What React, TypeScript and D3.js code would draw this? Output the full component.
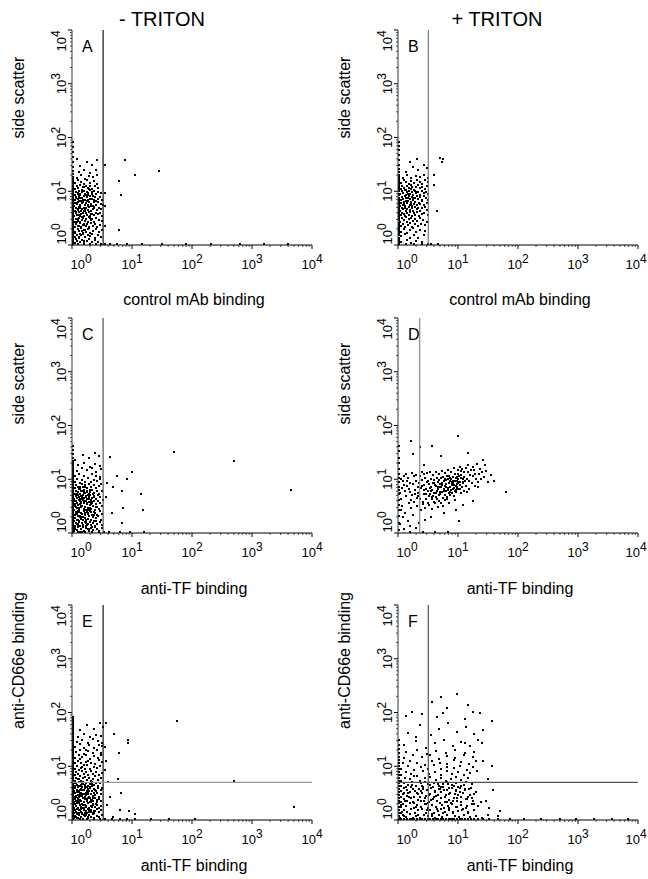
import React from "react";
import * as d3 from "d3";

// events: [x channel, y channel] in linear units (log axes 10^0..10^4)
const cloudA: [number, number][] = [
  [1.08,1.05],[1.18,1.15],[1.3,1.08],[1.42,1.2],[1.55,1.03],[1.68,1.12],[1.85,1.22],[2.05,1.07],[2.3,1.17],[2.65,1.1],[1.12,1.24],[1.5,1.14],
  [1.06,1.35],[1.15,1.5],[1.25,1.3],[1.38,1.45],[1.47,1.55],[1.6,1.33],[1.75,1.48],[1.9,1.38],[2.1,1.52],[2.35,1.29],[2.6,1.44],[2.95,1.36],[1.32,1.56],
  [1.1,1.65],[1.2,1.9],[1.28,1.72],[1.36,1.98],[1.45,1.6],[1.55,1.82],[1.66,1.7],[1.8,1.93],[1.95,1.63],[2.15,1.78],[2.4,1.88],[2.7,1.67],[3.05,1.85],[1.4,1.76],
  [1.07,2.1],[1.14,2.35],[1.22,2.2],[1.3,2.45],[1.37,2.05],[1.44,2.28],[1.52,2.4],[1.62,2.15],[1.72,2.32],[1.84,2.02],[1.98,2.44],[2.12,2.18],[2.3,2.38],[2.55,2.08],[2.85,2.26],[1.26,2.12],
  [1.06,2.6],[1.12,2.95],[1.19,2.72],[1.27,3.1],[1.33,2.55],[1.4,2.85],[1.48,3.05],[1.56,2.65],[1.65,2.9],[1.75,2.58],[1.86,3.15],[1.97,2.78],[2.1,2.98],[2.25,2.62],[2.45,3.08],[2.7,2.82],[3.0,2.7],[1.22,2.88],
  [1.05,3.3],[1.11,3.7],[1.17,3.45],[1.24,3.9],[1.31,3.25],[1.38,3.6],[1.46,3.82],[1.54,3.38],[1.63,3.72],[1.72,3.5],[1.82,3.95],[1.93,3.3],[2.05,3.65],[2.2,3.42],[2.38,3.85],[2.6,3.55],[2.85,3.75],[3.1,3.35],
  [1.07,4.1],[1.13,4.6],[1.2,4.3],[1.27,4.85],[1.34,4.05],[1.41,4.5],[1.5,4.75],[1.58,4.2],[1.67,4.65],[1.77,4.35],[1.88,4.9],[2.0,4.15],[2.13,4.55],[2.28,4.8],[2.47,4.25],[2.68,4.7],[2.95,4.4],[1.23,4.45],
  [1.05,5.2],[1.11,5.9],[1.18,5.5],[1.25,6.2],[1.32,5.1],[1.4,5.7],[1.48,6.05],[1.57,5.35],[1.66,5.85],[1.76,5.25],[1.87,6.15],[1.99,5.6],[2.12,5.05],[2.27,5.95],[2.45,5.4],[2.65,6.1],[2.9,5.6],[3.15,5.3],
  [1.08,6.5],[1.14,7.4],[1.21,6.9],[1.28,7.8],[1.35,6.4],[1.43,7.2],[1.51,7.7],[1.6,6.7],[1.7,7.5],[1.81,6.55],[1.92,7.9],[2.05,7.0],[2.2,6.45],[2.37,7.6],[2.57,6.85],[2.8,7.35],[3.05,6.6],[1.25,7.1],
  [1.06,8.3],[1.12,9.4],[1.19,8.8],[1.26,9.8],[1.33,8.1],[1.41,9.1],[1.5,9.7],[1.59,8.5],[1.69,9.3],[1.8,8.2],[1.92,9.9],[2.06,8.7],[2.22,9.5],[2.42,8.4],[2.65,9.2],[2.95,8.9],
  [1.07,10.5],[1.15,12],[1.23,11],[1.32,12.4],[1.42,10.2],[1.53,11.5],[1.65,12.2],[1.78,10.8],[1.93,11.8],[2.1,10.4],[2.32,12.1],[2.6,11.2],
  [1.1,13.5],[1.22,15.2],[1.36,14],[1.5,13],[1.68,15.6],[1.9,13.8],[2.2,14.8],[2.55,13.2],
  [1.15,17],[1.35,19],[1.6,16.5],[1.85,18.5],[2.15,17.5],[2.5,19.5],
  [1.25,22],[1.55,24],[1.95,21],[2.4,23.5],[1.3,28],[1.7,34],[2.1,30],[2.5,36],[1.15,38],
  [1.09,1.58],[1.17,2.6],[1.24,3.5],[1.29,5.4],[1.36,7.3],[1.44,9.5],[1.52,2.3],[1.6,4.4],[1.7,6.2],[1.8,8.9],[1.9,3.1],[2.0,5.2],[2.15,7.8],[1.14,4.0],
  [1.21,6.1],[1.33,8.6],[1.46,11.3],[1.58,1.8],[1.68,3.4],[1.78,5.0],[1.94,6.9],[2.08,9.1],[1.1,10.4],[1.27,1.35],[1.39,2.75],[1.55,4.05],[1.63,5.75],
  [1.73,7.65],[1.87,2.05],[2.25,4.6],[1.11,7.2],[1.19,8.4],[1.42,3.2],[1.47,6.6],[1.85,10.6],[2.4,6.3],[1.06,5.8],[1.31,4.7],[1.64,8.2],[2.02,3.6],
  [7.4,37],[27.5,22.4],[10.7,19.5],[5.75,14.8],[6.3,8.1],[5.75,1.82],[3.35,9],[3.4,5],[3.35,2.2],[3.4,30]
];
const pileA = [1,1.08,1.15,1.22,1.3,1.38,1.46,1.55,1.65,1.75,1.86,1.98,2.1,2.25,2.4,2.55,2.72,2.9,3.1,3.3,3.5,3.75,4,4.25,4.55,4.85,5.2,5.55,5.9,6.3,6.7,7.15,7.6,8.1,8.7,9.3,10,10.8,11.7,12.6,13.7,15,16.5,18,20,23,27,33,42,52,65,78];
const floorA = [1.2,1.5,1.9,2.4,2.9,3.4,4.2,5.5,8,14,30,75,200,600,1500,3800];

const cloudB: [number, number][] = [
  [1.1,1.1],[1.35,1.2],[1.6,1.05],[1.95,1.15],[2.4,1.08],
  [1.08,1.4],[1.28,1.52],[1.5,1.32],[1.75,1.45],[2.1,1.3],[2.6,1.5],
  [1.06,1.7],[1.2,1.9],[1.38,1.62],[1.55,1.8],[1.72,1.95],[1.95,1.68],[2.25,1.85],[2.7,1.75],
  [1.07,2.2],[1.16,2.4],[1.27,2.05],[1.4,2.3],[1.52,2.45],[1.66,2.1],[1.83,2.35],[2.05,2.15],[2.35,2.4],[2.75,2.25],
  [1.05,2.6],[1.12,3.0],[1.2,2.75],[1.29,3.15],[1.38,2.55],[1.47,2.9],[1.58,3.1],[1.7,2.65],[1.85,2.95],[2.02,2.7],[2.22,3.05],[2.5,2.8],[2.9,2.6],
  [1.06,3.4],[1.13,3.85],[1.2,3.55],[1.28,3.25],[1.36,3.75],[1.45,3.45],[1.55,3.95],[1.65,3.3],[1.76,3.7],[1.88,3.5],[2.02,3.9],[2.18,3.35],[2.38,3.65],[2.65,3.8],[3.0,3.45],
  [1.05,4.2],[1.11,4.7],[1.17,4.4],[1.24,4.9],[1.31,4.1],[1.38,4.55],[1.46,4.8],[1.54,4.3],[1.63,4.65],[1.73,4.05],[1.84,4.95],[1.96,4.45],[2.1,4.75],[2.26,4.2],[2.45,4.6],[2.68,4.85],[2.95,4.3],[1.27,4.62],
  [1.05,5.1],[1.1,5.8],[1.16,5.4],[1.22,6.1],[1.28,5.2],[1.35,5.7],[1.42,6.25],[1.5,5.35],[1.58,5.95],[1.67,5.15],[1.77,5.65],[1.88,6.05],[2.0,5.3],[2.13,5.85],[2.28,5.5],[2.45,6.2],[2.65,5.25],[2.9,5.75],[1.2,5.55],[1.6,5.5],
  [1.06,6.6],[1.12,7.5],[1.18,6.9],[1.25,7.9],[1.32,6.4],[1.39,7.3],[1.47,7.75],[1.55,6.75],[1.64,7.6],[1.74,6.5],[1.85,7.15],[1.97,7.85],[2.1,6.85],[2.25,7.45],[2.42,6.55],[2.62,7.7],[2.85,7.05],[3.1,6.7],[1.3,7.05],[1.7,7.25],
  [1.05,8.4],[1.11,9.5],[1.17,8.9],[1.24,9.9],[1.31,8.15],[1.38,9.2],[1.46,9.75],[1.54,8.6],[1.63,9.4],[1.72,8.3],[1.83,9.85],[1.95,8.75],[2.08,9.3],[2.23,8.2],[2.4,9.6],[2.6,8.85],[2.85,9.15],[3.1,8.5],[1.4,8.5],[1.9,9.1],
  [1.07,10.6],[1.14,12.2],[1.21,11.2],[1.29,10.1],[1.37,11.9],[1.46,10.8],[1.56,12.4],[1.67,11.4],[1.79,10.3],[1.92,11.7],[2.07,12.5],[2.24,10.9],[2.45,11.5],[2.7,10.4],[2.95,12.0],[1.6,10.6],
  [1.1,13.4],[1.2,15.5],[1.32,14.2],[1.45,13],[1.6,15.1],[1.78,13.8],[1.98,15.8],[2.2,14.1],[2.45,13.3],[2.75,15.2],[3.05,14],
  [1.15,17],[1.35,19.2],[1.6,16.8],[1.9,18.4],[2.25,17.6],[2.6,19.5],[3.0,17],
  [1.3,22],[1.7,27],[2.1,24],[2.6,30],[1.5,34],[2.9,26],[2.0,38],
  [4.9,40],[5.2,33],[5.5,38],[4.3,4.1],[3.9,12.5],[3.8,19]
];
const pileB = [1,1.1,1.2,1.32,1.45,1.6,1.75,1.9,2.1,2.3,2.5,2.75,3,3.3,3.6,3.95,4.3,4.7,5.1,5.6,6.1,6.7,7.3,8,8.7,9.5,10.4,11.3,12.4,13.5,14.8,16.2,17.7,19.5,22,25,30,36,45,55,68,80];
const floorB = [1.3,1.8,2.4,3.0,3.4,4.5];

const cloudC: [number, number][] = [
  [1.05,1.05],[1.1,1.18],[1.16,1.1],[1.23,1.22],[1.3,1.02],[1.38,1.14],[1.46,1.25],[1.55,1.06],[1.65,1.2],[1.76,1.12],[1.88,1.03],[2.0,1.17],[2.15,1.09],[2.3,1.23],[2.5,1.13],[2.75,1.04],[3.0,1.2],[1.42,1.02],
  [1.06,1.3],[1.12,1.5],[1.18,1.38],[1.25,1.56],[1.32,1.28],[1.4,1.45],[1.48,1.34],[1.57,1.52],[1.67,1.27],[1.78,1.42],[1.9,1.55],[2.03,1.33],[2.18,1.47],[2.35,1.29],[2.55,1.4],[2.8,1.53],[3.1,1.36],[1.2,1.43],
  [1.05,1.62],[1.1,1.85],[1.15,1.7],[1.21,1.96],[1.27,1.6],[1.34,1.78],[1.41,1.92],[1.49,1.66],[1.58,1.84],[1.67,1.59],[1.77,1.74],[1.88,1.98],[2.0,1.68],[2.13,1.88],[2.28,1.62],[2.45,1.8],[2.65,1.95],[2.9,1.7],[1.3,1.9],[1.62,1.7],
  [1.06,2.05],[1.11,2.4],[1.17,2.2],[1.23,2.47],[1.29,2.02],[1.36,2.3],[1.43,2.12],[1.51,2.44],[1.6,2.08],[1.69,2.35],[1.8,2.18],[1.92,2.48],[2.05,2.1],[2.2,2.38],[2.36,2.22],[2.55,2.03],[2.78,2.42],[3.05,2.15],[1.2,2.32],[1.75,2.25],
  [1.05,2.55],[1.1,3.05],[1.16,2.75],[1.22,3.15],[1.28,2.6],[1.35,2.9],[1.42,3.1],[1.5,2.68],[1.59,2.98],[1.68,2.53],[1.78,2.85],[1.9,3.18],[2.03,2.72],[2.17,3.0],[2.33,2.58],[2.52,2.92],[2.75,2.65],[3.0,3.1],[1.26,2.85],[1.84,2.62],
  [1.06,3.35],[1.12,3.85],[1.18,3.5],[1.24,3.95],[1.31,3.25],[1.38,3.65],[1.46,3.9],[1.54,3.4],[1.63,3.75],[1.73,3.3],[1.84,3.6],[1.96,3.98],[2.09,3.45],[2.24,3.8],[2.41,3.28],[2.62,3.7],[2.86,3.42],[3.12,3.88],[1.35,3.42],[1.9,3.55],
  [1.05,4.15],[1.11,4.75],[1.17,4.35],[1.23,4.95],[1.3,4.05],[1.37,4.6],[1.45,4.85],[1.53,4.25],[1.62,4.7],[1.72,4.1],[1.83,4.5],[1.95,4.9],[2.08,4.3],[2.23,4.65],[2.4,4.08],[2.6,4.8],[2.85,4.4],[1.4,4.4],[1.88,4.2],
  [1.06,5.2],[1.12,5.9],[1.19,5.45],[1.26,6.2],[1.33,5.1],[1.41,5.7],[1.5,6.1],[1.6,5.3],[1.7,5.85],[1.82,5.05],[1.95,5.6],[2.1,6.15],[2.27,5.35],[2.48,5.9],[2.72,5.15],[3.0,5.75],[1.55,5.55],
  [1.07,6.6],[1.14,7.6],[1.22,7.0],[1.3,6.4],[1.39,7.8],[1.49,6.9],[1.6,7.4],[1.72,6.5],[1.86,7.7],[2.02,6.8],[2.2,7.5],[2.42,6.45],[2.68,7.2],[2.95,7.9],
  [1.08,8.5],[1.18,9.6],[1.3,8.2],[1.43,9.2],[1.58,8.7],[1.76,9.9],[1.97,8.4],[2.22,9.4],[2.52,8.8],[2.85,9.7],
  [1.1,10.8],[1.28,12.2],[1.5,11.2],[1.75,10.3],[2.05,12],[2.4,11],[2.85,10.6],
  [1.15,13.5],[1.4,15.4],[1.7,14],[2.05,15.8],[2.45,13.2],[2.9,14.6],
  [1.2,17.5],[1.55,19.5],[1.95,16.5],[2.35,18.5],[2.8,17],
  [1.1,22],[1.45,27],[1.85,24],[2.3,30],[2.75,25.5],
  [1.09,1.12],[1.2,1.65],[1.27,2.35],[1.34,3.1],[1.43,4.2],[1.52,5.3],[1.61,6.9],[1.72,1.35],[1.83,2.0],[1.95,2.75],[2.1,3.6],[2.25,4.55],[2.45,1.6],[1.14,2.9],
  [1.24,4.4],[1.36,5.9],[1.47,1.9],[1.58,2.6],[1.69,3.4],[1.8,4.8],[1.92,6.0],[2.06,1.25],[2.2,2.05],[2.38,2.9],[1.07,3.7],[1.17,5.0],[1.29,6.8],[1.4,1.5],
  [1.51,3.7],[1.63,4.5],[1.74,5.6],[1.86,1.15],[2.0,3.3],[2.14,5.0],[1.12,2.2],[1.22,1.3],[1.32,3.85],[1.56,2.25],[1.66,1.45],[1.98,2.35],
  [4.2,25],[9.8,13.2],[5.4,11.2],[7.9,9.5],[6.6,5.9],[13.8,5],[14.8,2.6],[6.9,2.8],[6.6,1.48],[4.5,2.24],[49,31],[480,21],[4270,6],[3.6,4.5],[3.7,8],[4.6,7]
];
const pileC = [1,1.07,1.14,1.22,1.3,1.39,1.48,1.58,1.69,1.8,1.93,2.06,2.2,2.35,2.5,2.67,2.85,3.05,3.25,3.47,3.7,3.95,4.2,4.5,4.8,5.1,5.45,5.8,6.2,6.6,7.05,7.5,8,8.55,9.1,9.7,10.4,11.1,11.8,12.6,13.5,14.4,15.4,16.5,17.6,19,21,24,28,33,40];
const floorC = [1.2,1.6,2.1,2.7,3.3,4,6,9,15];

const cloudD: [number, number][] = [
  [1.03,1.4],[1.06,2.6],[1.1,4.2],[1.14,6.5],[1.18,8.9],[1.22,11],[1.05,5.3],[1.12,3.1],[1.2,7.4],[1.08,9.8],[1.16,1.9],[1.24,5.8],
  [1.28,2.3],[1.32,4.6],[1.36,7.1],[1.4,10.2],[1.45,3.4],[1.5,5.5],[1.54,8.3],[1.3,12],[1.42,1.6],[1.48,6.4],[1.56,3.9],[1.34,9],
  [1.6,2.8],[1.65,4.9],[1.7,7.7],[1.75,10.8],[1.8,3.6],[1.86,6],[1.92,8.8],[1.96,4.3],[1.62,12.5],[1.72,2.1],[1.84,5.2],[1.9,11.5],
  [2.02,3.1],[2.08,5.4],[2.15,8.1],[2.22,11.2],[2.28,4.2],[2.35,6.6],[2.42,9.4],[2.48,3.6],[2.05,7],[2.18,1.5],[2.3,2.6],[2.38,12.8],
  [2.52,3.3],[2.58,5.2],[2.64,7.4],[2.7,10.3],[2.78,4.1],[2.85,6.3],[2.92,8.7],[3.0,3.5],[3.08,5.7],[3.15,7.9],[2.6,11.8],[2.75,2.8],[2.95,12.6],[3.12,4.6],
  [3.22,3.2],[3.28,5.0],[3.35,7.0],[3.42,9.6],[3.5,4.1],[3.58,6.1],[3.66,8.3],[3.74,11.4],[3.82,3.6],[3.9,5.4],[3.96,7.5],[3.3,12.8],[3.55,2.7],[3.7,4.7],[3.86,9.2],
  [4.05,3.4],[4.12,5.3],[4.2,7.3],[4.28,9.9],[4.36,4.2],[4.45,6.2],[4.54,8.6],[4.62,11.8],[4.7,3.7],[4.78,5.6],[4.86,7.7],[4.95,10.2],[4.15,13.2],[4.4,2.9],[4.6,4.8],[4.9,6.8],
  [5.05,3.5],[5.15,5.5],[5.25,7.6],[5.35,10.4],[5.45,4.3],[5.56,6.4],[5.67,8.8],[5.78,12.3],[5.9,3.9],[6.0,5.9],[6.1,7.9],[6.2,10.8],[5.2,13.8],[5.5,3.1],[5.8,4.9],[6.15,6.9],[5.95,9.6],
  [6.4,4.1],[6.55,6.0],[6.7,8.2],[6.85,11.2],[7.0,4.8],[7.15,7.0],[7.3,9.5],[7.45,13.0],[7.6,5.4],[7.75,7.6],[7.9,10.4],[6.5,14.5],[6.9,3.4],[7.2,5.6],[7.5,8.6],[7.85,6.4],[6.6,9.8],
  [8.1,4.6],[8.3,6.6],[8.5,8.9],[8.7,12.0],[8.9,5.5],[9.1,7.7],[9.3,10.5],[9.5,14.3],[9.7,6.2],[9.9,8.5],[8.2,15.5],[8.6,3.9],[9.0,6.1],[9.4,9.0],[9.8,11.8],[8.8,7.2],
  [10.2,6.2],[10.5,8.4],[10.8,11.4],[11.1,14.7],[11.4,7.0],[11.7,9.6],[12.0,12.8],[12.3,5.8],[10.4,16.2],[11.0,5.3],[11.6,8.0],[12.2,10.7],[10.7,13.6],
  [12.9,7.2],[13.4,9.8],[13.9,12.9],[14.4,6.4],[14.9,8.8],[15.4,11.6],[13.1,15.6],[14.1,17.4],[15.7,14.3],[13.7,5.6],
  [16.5,8.0],[17.2,10.9],[17.9,14.0],[18.6,7.2],[19.3,9.6],[16.8,16.5],[18.2,12.1],[19.7,18.2],
  [20.5,8.6],[21.5,11.8],[22.5,15.0],[23.5,9.8],[24.5,13.0],[21,6.9],
  [26,10.5],[28,13.6],[30,8.4],[27,18],[34,11.5],[38,9.0],[61,5.6],
  [2.1,4.6],[2.45,7.2],[2.8,5.0],[3.1,9.0],[3.45,5.8],[3.8,8.0],[4.1,4.5],[4.5,7.0],[4.9,5.2],[5.3,8.2],[5.7,5.9],[6.1,9.2],[6.5,6.6],[6.95,8.8],
  [7.4,6.1],[7.8,9.0],[8.3,7.4],[8.8,10.0],[9.3,7.0],[9.8,9.8],[10.4,7.6],[11.0,10.0],[11.7,8.6],[3.3,6.5],[4.3,5.9],[5.1,6.8],[5.9,7.3],[6.7,5.3],
  [7.6,7.9],[8.5,5.8],[9.6,8.1],[2.6,6.0],[3.6,4.4],[4.7,9.1],[6.3,4.5],[7.1,10.3],[8.0,8.3],[9.1,6.6],[10.1,11.0],[12.5,9.0],
  [9.5,62],[3.6,40],[2.2,38],[14,30],[25,22],[5,26],[1.6,50],[1.2,1.15],[1.5,1.3],[1.9,1.2],[2.7,1.7],[3.4,1.9],[5.7,2.3],[8.8,2.6],[11.7,3.2],[17,3.8],[1.7,28],[2.6,18],[10,1.6]
];
const pileD = [1.1,1.5,2.0,2.6,3.2,4,5,6,7,8.5,10,12,15,19,24,32,40];
const floorD = [1.5,2.5,4,6.5];

const cloudE: [number, number][] = [
  [1.04,1.03],[1.08,1.15],[1.12,1.08],[1.17,1.22],[1.22,1.04],[1.28,1.17],[1.34,1.1],[1.41,1.24],[1.48,1.02],[1.56,1.14],[1.65,1.2],[1.75,1.06],[1.86,1.18],[1.98,1.1],[2.12,1.23],[2.28,1.05],[2.48,1.16],[2.7,1.09],[3.0,1.21],[1.31,1.02],
  [1.05,1.3],[1.09,1.48],[1.14,1.36],[1.19,1.55],[1.24,1.28],[1.3,1.44],[1.36,1.52],[1.43,1.32],[1.5,1.47],[1.58,1.27],[1.67,1.4],[1.77,1.56],[1.88,1.34],[2.0,1.5],[2.14,1.29],[2.3,1.43],[2.5,1.54],[2.72,1.33],[2.98,1.46],[1.15,1.27],[1.55,1.57],[2.2,1.38],
  [1.04,1.62],[1.08,1.9],[1.13,1.72],[1.18,1.97],[1.23,1.6],[1.29,1.8],[1.35,1.68],[1.42,1.94],[1.49,1.63],[1.57,1.85],[1.66,1.7],[1.76,1.99],[1.87,1.6],[1.99,1.78],[2.13,1.92],[2.29,1.66],[2.48,1.83],[2.7,1.6],[2.95,1.75],[1.27,1.96],[1.62,1.77],[2.05,1.64],
  [1.05,2.05],[1.09,2.35],[1.14,2.15],[1.19,2.45],[1.25,2.0],[1.31,2.28],[1.37,2.12],[1.44,2.42],[1.51,2.06],[1.59,2.32],[1.68,2.18],[1.78,2.48],[1.89,2.03],[2.01,2.3],[2.15,2.14],[2.31,2.44],[2.5,2.08],[2.72,2.36],[2.98,2.2],[1.22,2.26],[1.64,2.4],[2.1,2.22],
  [1.04,2.55],[1.08,3.0],[1.13,2.72],[1.18,3.15],[1.24,2.58],[1.3,2.88],[1.36,3.08],[1.43,2.65],[1.5,2.95],[1.58,2.52],[1.67,2.8],[1.77,3.12],[1.88,2.62],[2.0,2.92],[2.14,2.5],[2.3,2.78],[2.49,3.1],[2.7,2.6],[2.95,2.9],[1.2,2.83],[1.7,2.95],[2.2,3.05],
  [1.05,3.3],[1.1,3.8],[1.15,3.48],[1.21,3.95],[1.27,3.22],[1.34,3.62],[1.41,3.88],[1.49,3.4],[1.58,3.72],[1.68,3.26],[1.79,3.58],[1.91,3.92],[2.05,3.35],[2.21,3.68],[2.4,3.25],[2.62,3.82],[2.88,3.5],[1.3,3.45],[1.85,3.3],[3.1,3.7],
  [1.06,4.1],[1.12,4.7],[1.18,4.35],[1.25,4.9],[1.32,4.05],[1.4,4.55],[1.48,4.8],[1.57,4.22],[1.67,4.65],[1.78,4.12],[1.9,4.45],[2.04,4.92],[2.2,4.3],[2.38,4.62],[2.6,4.08],[2.85,4.75],[1.36,4.28],[1.95,4.7],
  [1.07,5.2],[1.14,5.9],[1.21,5.45],[1.29,6.2],[1.38,5.05],[1.48,5.7],[1.59,6.1],[1.71,5.3],[1.84,5.85],[1.99,5.1],[2.16,5.6],[2.36,6.2],[2.6,5.35],[2.88,5.9],[1.25,5.65],
  [1.06,6.6],[1.13,7.6],[1.21,7.0],[1.3,6.4],[1.4,7.8],[1.52,6.9],[1.65,7.4],[1.8,6.5],[1.97,7.7],[2.17,6.8],[2.4,7.5],[2.68,6.45],[3.0,7.2],
  [1.08,8.5],[1.17,9.6],[1.28,8.2],[1.41,9.2],[1.56,8.7],[1.74,9.9],[1.95,8.4],[2.2,9.4],[2.5,8.8],[2.85,9.7],[1.35,8.9],
  [1.1,10.8],[1.22,12.2],[1.37,11.2],[1.55,10.3],[1.77,12],[2.03,11],[2.35,10.6],[2.72,12.3],[3.05,11.5],[1.65,11.6],
  [1.09,13.5],[1.24,15.4],[1.42,14],[1.65,15.8],[1.92,13.2],[2.25,14.6],[2.6,13.8],[2.95,15.5],[1.32,13],
  [1.12,17.5],[1.3,19.5],[1.52,16.5],[1.8,18.5],[2.12,17],[2.5,19.3],[2.9,16.8],[1.65,19],
  [1.1,22],[1.3,24.5],[1.55,21],[1.88,23.5],[2.25,20.5],[2.7,24],[3.05,22.5],
  [1.15,27],[1.4,30],[1.75,26],[2.15,31],[2.6,28],[3.0,26.5],
  [1.2,34],[1.5,38],[1.95,33],[2.45,37],[2.9,35],
  [1.3,45],[1.7,55],[2.2,48],[2.8,60],[3.2,52],
  [1.09,1.12],[1.16,1.55],[1.22,2.1],[1.3,2.7],[1.38,3.5],[1.46,4.4],[1.54,1.2],[1.62,1.7],[1.71,2.25],[1.81,2.9],[1.93,3.7],[2.07,4.5],[2.23,1.3],[2.42,1.9],
  [1.11,2.55],[1.2,3.3],[1.27,4.2],[1.35,1.35],[1.45,1.85],[1.53,2.45],[1.64,3.1],[1.74,3.95],[1.85,1.5],[1.97,2.05],[2.12,2.65],[2.3,3.4],[1.07,4.6],[1.15,1.05],
  [1.25,1.45],[1.42,2.95],[1.6,4.0],[1.8,1.1],[2.0,1.35],[2.18,1.8],[2.55,2.3],[1.33,2.2],[1.5,3.4],[1.68,1.3],[1.9,2.5],[2.05,4.1],
  [8.3,26],[5.8,17],[8.2,29.5],[5.7,5.6],[3.4,8],[3.4,22],[3.5,60],[4.8,38],[55,66],[6.3,3.0],[6.0,1.5],[10.7,1.25],[8.6,1.4],[3.7,1.8],[4.2,2.6],[3.6,12],[4.6,1.1],[480,5.0],[4900,1.65],[3.8,4.8]
];
const pileE = [1,1.06,1.12,1.19,1.26,1.33,1.41,1.5,1.58,1.68,1.78,1.88,2,2.1,2.25,2.4,2.5,2.65,2.8,3,3.15,3.35,3.55,3.75,4,4.2,4.45,4.7,5,5.3,5.6,6,6.3,6.7,7.1,7.5,8,8.4,8.9,9.4,10,10.6,11.2,11.9,12.6,13.3,14.1,15,15.8,16.8,17.8,18.8,20,21,22.5,24,25,26.5,28,30,32,33.5,35.5,37.5,40,42,45,47,50,53,56,60,63,67,71,75,80];
const floorE = [1.3,1.7,2.2,2.8,3.4,4.5,6,8,11,20,40,110];

const cloudF: [number, number][] = [
  [1.05,1.04],[1.15,1.18],[1.3,1.1],[1.5,1.22],[1.7,1.06],[1.95,1.15],[2.25,1.03],[2.6,1.2],[3.0,1.12],[3.5,1.24],[4.0,1.05],[4.6,1.17],[5.3,1.09],[6.2,1.21],[7.2,1.02],[8.5,1.14],[10,1.07],[12,1.19],[15,1.1],[19,1.16],[24,1.05],[30,1.2],[44,1.14],
  [1.08,1.3],[1.2,1.48],[1.38,1.36],[1.6,1.55],[1.85,1.28],[2.1,1.44],[2.4,1.52],[2.8,1.32],[3.3,1.47],[3.8,1.27],[4.4,1.4],[5.1,1.56],[5.9,1.34],[6.9,1.5],[8,1.29],[9.5,1.43],[11.5,1.54],[14,1.33],[18,1.46],
  [1.06,1.65],[1.18,1.9],[1.33,1.72],[1.52,1.97],[1.75,1.6],[2.0,1.8],[2.3,1.68],[2.7,1.94],[3.1,1.63],[3.6,1.85],[4.2,1.7],[4.9,1.99],[5.7,1.61],[6.6,1.78],[7.7,1.92],[9,1.66],[10.8,1.83],[13,1.62],[16.5,1.88],[21,1.72],
  [1.07,2.1],[1.2,2.4],[1.36,2.2],[1.56,2.47],[1.8,2.02],[2.05,2.3],[2.35,2.12],[2.75,2.44],[3.2,2.06],[3.7,2.32],[4.3,2.18],[5.0,2.48],[5.8,2.03],[6.8,2.3],[7.9,2.15],[9.3,2.42],[11,2.08],[13.5,2.36],[17,2.2],[23,2.05],
  [1.06,2.6],[1.19,3.0],[1.35,2.72],[1.55,3.15],[1.78,2.58],[2.05,2.88],[2.4,3.08],[2.8,2.65],[3.25,2.95],[3.8,2.52],[4.4,2.8],[5.1,3.12],[5.9,2.62],[6.9,2.92],[8.1,2.5],[9.6,2.78],[11.5,3.1],[14,2.6],[18,2.9],
  [1.07,3.35],[1.2,3.85],[1.38,3.5],[1.6,3.95],[1.85,3.25],[2.15,3.65],[2.5,3.9],[2.95,3.4],[3.45,3.75],[4.0,3.3],[4.7,3.6],[5.5,3.98],[6.4,3.45],[7.5,3.8],[8.8,3.28],[10.5,3.7],[12.8,3.42],[16,3.85],
  [1.06,4.15],[1.2,4.75],[1.4,4.35],[1.65,4.95],[1.95,4.05],[2.3,4.6],[2.75,4.85],[3.3,4.25],[3.9,4.7],[4.6,4.1],[5.4,4.5],[6.4,4.9],[7.6,4.3],[9,4.65],[10.8,4.08],[13,4.8],[16.5,4.4],
  [1.12,1.35],[1.25,2.2],[1.42,3.1],[1.62,4.3],[1.9,1.7],[2.2,2.6],[2.55,3.6],[2.95,1.45],[3.4,2.3],[3.95,3.2],[4.5,4.4],[5.2,1.8],[6.0,2.75],[6.9,3.7],
  [7.9,1.35],[9.1,2.2],[10.4,3.15],[11.9,4.3],[13.6,1.75],[15.5,2.85],[1.18,2.9],[1.33,4.0],[1.5,1.25],[1.73,2.05],[1.98,3.0],[2.4,4.05],[2.8,1.9],[3.2,2.85],
  [3.7,3.9],[4.3,1.55],[4.95,2.45],[5.7,3.4],[6.5,4.5],[7.4,1.95],[8.5,2.9],[9.8,3.95],[11.3,1.5],[12.9,2.4],[14.8,3.55],[17.5,1.9],[1.08,1.85],[1.22,1.15],
  [1.45,2.6],[1.68,3.55],[2.1,1.2],[2.65,2.15],[3.05,4.45],[3.55,1.15],[4.1,2.65],[4.75,3.65],[5.45,1.3],[6.3,2.05],[7.1,3.0],[8.1,4.1],[9.4,1.7],[10.9,2.6],
  [12.4,3.55],[14.2,1.3],[16.5,2.45],[19.5,3.2],[2.3,3.3],[3.0,2.0],[5.0,3.9],[6.7,1.6],[8.8,3.5],
  [1.08,5.2],[1.25,5.9],[1.5,5.45],[1.8,6.2],[2.2,5.1],[2.7,5.7],[3.3,6.1],[4.1,5.3],[5.0,5.85],[6.1,5.05],[7.4,5.6],[9,6.15],[11,5.35],[14,5.9],
  [1.07,6.6],[1.3,7.6],[1.6,7.0],[2.0,6.4],[2.5,7.8],[3.2,6.9],[4.0,7.4],[5.0,6.5],[6.2,7.7],[7.7,6.8],[9.5,7.5],[12,6.45],[15,7.2],[20,7.9],
  [1.1,8.5],[1.4,9.6],[1.8,8.2],[2.3,9.2],[3.0,8.7],[3.9,9.9],[5.0,8.4],[6.4,9.4],[8.2,8.8],[10.5,9.7],[13.5,8.3],[17,9.2],
  [1.15,10.8],[1.5,12.2],[2.0,11.2],[2.7,10.3],[3.6,12],[4.8,11],[6.3,10.6],[8.3,12.3],[11,11.5],[14.5,10.4],[19,11.8],
  [1.2,13.5],[1.7,15.4],[2.4,14],[3.3,15.8],[4.6,13.2],[6.3,14.6],[8.7,13.8],[12,15.5],[17,14],
  [1.3,17.5],[2.0,19.5],[2.9,16.5],[4.2,18.5],[6.0,17],[8.5,19.3],[12.5,16.8],[18,18],
  [1.2,24],[1.9,28],[2.8,21],[4.0,26],[5.6,30],[7.8,22.5],[11,27],[15,23],[21,29],
  [1.4,40],[2.2,55],[3.4,36],[4.7,48],[6.6,60],[9.2,42],[13,52],[18,38],[25,45],[1.9,34],
  [1.66,100],[2.4,90],[4.3,80],[6.3,117],[17,100],[22,93],[35,68],[1.3,82],[5.5,95],[12.5,73],
  [9.2,210],[5,190],[3.5,150],[14,130],
  [12.6,26],[24,26],[35,9.8],[37,3.4],[48,1.38],[30,5.5],[28,2.2],[25,12],[32,1.6]
];
const pileF = [1,1.15,1.3,1.5,1.7,1.95,2.2,2.5,2.8,3.2,3.6,4.1,4.6,5.2,5.9,6.7,7.6,8.6,9.8,11,12.5,14.5,17,20,24,30];
const floorF = [1,1.1,1.2,1.35,1.5,1.65,1.8,2,2.2,2.45,2.7,3,3.3,3.7,4.1,4.5,5,5.5,6.1,6.8,7.5,8.3,9.2,10.2,11.3,12.5,14,16,18,21,25,32,45,70,120,230,480,900,1800,3500,6500];

// gates: vertical marker on x, horizontal marker on y
const gateX = { A: 3.3, B: 3.2, C: 3.3, D: 2.3, E: 3.3, F: 3.2 };
const gateY = { E: 5.0, F: 5.0 };

const decades = [0, 1, 2, 3, 4];
const columnTitles = ["- TRITON", "+ TRITON"];
const yTitles = ["side scatter", "side scatter", "anti-CD66e binding"];
const xTitles = ["control mAb binding", "anti-TF binding", "anti-TF binding"];

const FONT = "'Liberation Sans', Arial, Helvetica, sans-serif";
const colLeft = [72, 398];
const rowTop = [30, 318, 605];
const W = 240;
const H = 215;
const titleX = [162, 497];
const xTitleGap = [60, 61, 51];
const yTitleShift = [-40, -42, -52];

const panels = [
  { id: "A", col: 0, row: 0, cloud: cloudA, pile: pileA, floor: floorA, gx: gateX.A, gxColor: "#111" },
  { id: "B", col: 1, row: 0, cloud: cloudB, pile: pileB, floor: floorB, gx: gateX.B, gxColor: "#777" },
  { id: "C", col: 0, row: 1, cloud: cloudC, pile: pileC, floor: floorC, gx: gateX.C, gxColor: "#555" },
  { id: "D", col: 1, row: 1, cloud: cloudD, pile: pileD, floor: floorD, gx: gateX.D, gxColor: "#888" },
  { id: "E", col: 0, row: 2, cloud: cloudE, pile: pileE, floor: floorE, gx: gateX.E, gxColor: "#111", gy: gateY.E, gyColor: "#999" },
  { id: "F", col: 1, row: 2, cloud: cloudF, pile: pileF, floor: floorF, gx: gateX.F, gxColor: "#555", gy: gateY.F, gyColor: "#555" },
];

const minors: number[] = [];
for (let k = 0; k < 4; k++) for (let m = 2; m < 10; m++) minors.push(m * Math.pow(10, k));

function DotPlot({ p }: { p: any }) {
  const left = colLeft[p.col];
  const top = rowTop[p.row];
  const bottom = top + H;
  const x = d3.scaleLog().domain([1, 1e4]).range([left, left + W]);
  const y = d3.scaleLog().domain([1, 1e4]).range([bottom, top]);
  const pts: [number, number][] = [
    ...p.cloud,
    ...p.pile.map((v: number) => [1, v] as [number, number]),
    ...p.floor.map((v: number) => [v, 1] as [number, number]),
  ];
  return (
    <g>
      {minors.map((m) => (
        <line key={"mx" + m} x1={x(m)} x2={x(m)} y1={bottom} y2={bottom + 2} stroke="#222" strokeWidth={0.8} />
      ))}
      {minors.map((m) => (
        <line key={"my" + m} x1={left - 2} x2={left} y1={y(m)} y2={y(m)} stroke="#222" strokeWidth={0.8} />
      ))}
      {decades.map((d) => {
        const tx = Math.min(Math.max(x(10 ** d), left + 9), 636);
        const ty = Math.min(Math.max(y(10 ** d), top + 11), bottom - 11);
        return (
          <g key={"t" + d}>
            <line x1={x(10 ** d)} x2={x(10 ** d)} y1={bottom} y2={bottom + 4} stroke="#000" />
            <line x1={left - 4} x2={left} y1={y(10 ** d)} y2={y(10 ** d)} stroke="#000" />
            <text x={tx} y={bottom + 24} textAnchor="middle" fontSize={13}>
              10<tspan dy={-6} fontSize={12}>{d}</tspan>
            </text>
            <text transform={`translate(${left - 6},${ty}) rotate(-90)`} textAnchor="middle" fontSize={13}>
              10<tspan dy={-6} fontSize={12}>{d}</tspan>
            </text>
          </g>
        );
      })}
      {pts.map((d, i) => (
        <rect key={i} x={Math.round(x(d[0]))} y={Math.round(y(d[1])) - 2} width={2} height={2} fill="#000" shapeRendering="crispEdges" />
      ))}
      <line x1={x(p.gx)} x2={x(p.gx)} y1={top} y2={bottom} stroke={p.gxColor} strokeWidth={1.2} />
      {p.gy && <line x1={left} x2={left + W} y1={y(p.gy)} y2={y(p.gy)} stroke={p.gyColor} strokeWidth={1.2} />}
      <line x1={left} x2={left} y1={top} y2={bottom} stroke="#333" />
      <line x1={left} x2={left + W} y1={bottom} y2={bottom} stroke="#000" />
      <text x={left + 10} y={top + 22} fontSize={16}>{p.id}</text>
      <text transform={`translate(${left - 48},${(top + bottom) / 2 + yTitleShift[p.row]}) rotate(-90)`} textAnchor="middle" fontSize={16}>
        {yTitles[p.row]}
      </text>
      <text x={left + W / 2 + 2} y={bottom + xTitleGap[p.row]} textAnchor="middle" fontSize={16}>
        {xTitles[p.row]}
      </text>
    </g>
  );
}

export default function App() {
  return (
    <svg width={648} height={879} style={{ position: "absolute", left: 0, top: 0, background: "#fff" }} fontFamily={FONT}>
      <rect width={648} height={879} fill="#fff" />
      {columnTitles.map((t, i) => (
        <text key={t} x={titleX[i]} y={26} textAnchor="middle" fontSize={20}>{t}</text>
      ))}
      {panels.map((p) => (
        <DotPlot key={p.id} p={p} />
      ))}
    </svg>
  );
}
